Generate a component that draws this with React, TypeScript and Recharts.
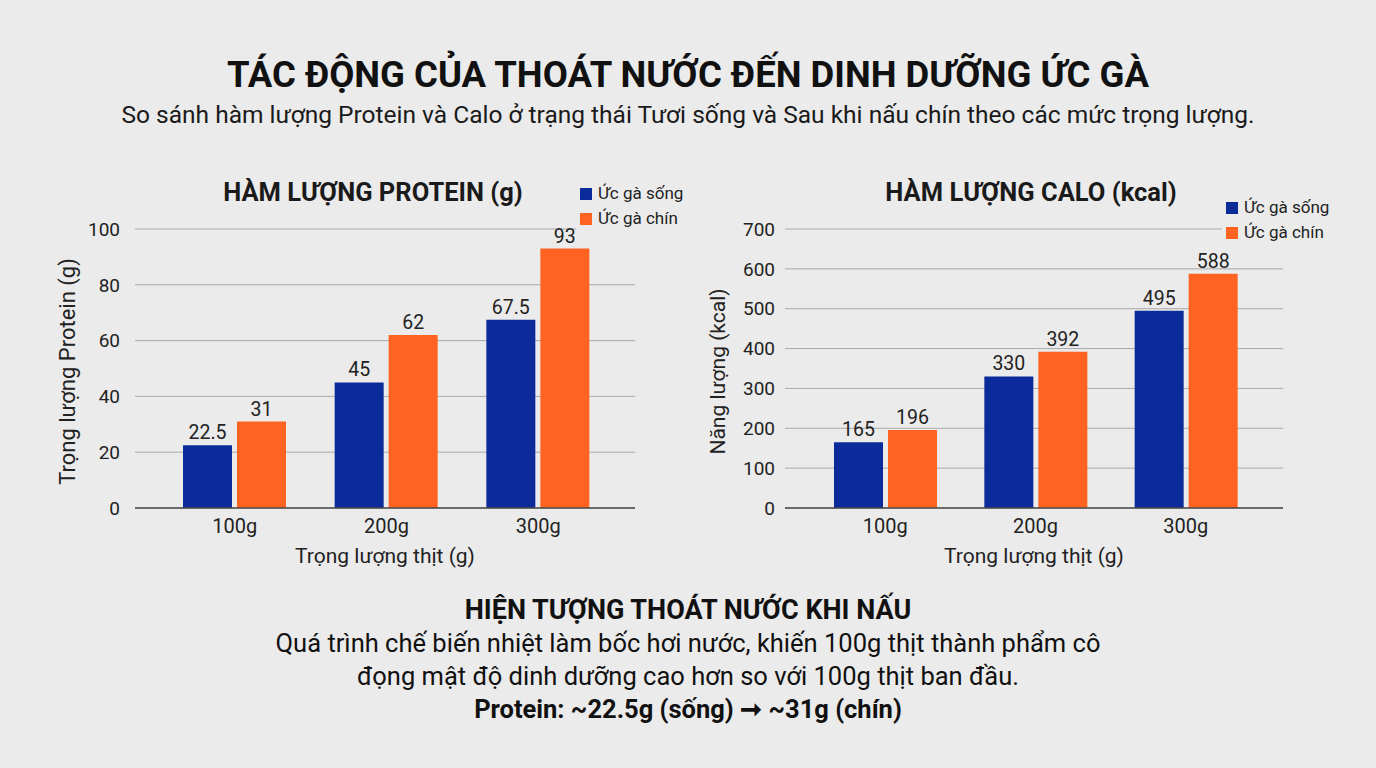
import React from 'react';
import {
  BarChart,
  Bar,
  XAxis,
  YAxis,
  CartesianGrid,
  LabelList,
  Label,
} from 'recharts';

const weights = ['100g', '200g', '300g'];
const proteinRaw = [22.5, 45, 67.5];
const proteinCooked = [31, 62, 93];
const caloRaw = [165, 330, 495];
const caloCooked = [196, 392, 588];
const proteinTicks = [0, 20, 40, 60, 80, 100];
const caloTicks = [0, 100, 200, 300, 400, 500, 600, 700];

const BLUE = '#0c2b9b';
const ORANGE = '#ff6322';
const BG = '#ebebeb';
const FONT = 'Roboto, "Noto Sans", sans-serif';

const proteinData = weights.map((w, i) => ({ name: w, raw: proteinRaw[i], cooked: proteinCooked[i] }));
const caloData = weights.map((w, i) => ({ name: w, raw: caloRaw[i], cooked: caloCooked[i] }));

interface PanelProps {
  data: { name: string; raw: number; cooked: number }[];
  ticks: number[];
  yLabel: string;
  yLabelSize: number;
  marginRight: number;
  tickMargin: number;
  padding: { left: number; right: number };
}

const Panel: React.FC<PanelProps> = ({ data, ticks, yLabel, yLabelSize, marginRight, tickMargin, padding }) => (
  <BarChart
    width={660}
    height={430}
    data={data}
    margin={{ top: 79, right: marginRight, left: 0, bottom: 42 }}
    barSize={49}
    barGap={5}
  >
    <CartesianGrid vertical={false} stroke="#a9a9a9" strokeWidth={1} />
    <XAxis
      dataKey="name"
      height={30}
      padding={padding}
      tickLine={false}
      tickMargin={5}
      axisLine={{ stroke: '#4a4a4a', strokeWidth: 1.5 }}
      tick={{ fill: '#222', fontSize: 20 }}
    >
      <Label value="Trọng lượng thịt (g)" position="bottom" offset={10} fill="#222" fontSize={21} />
    </XAxis>
    <YAxis
      width={135}
      domain={[0, ticks[ticks.length - 1]]}
      ticks={ticks}
      axisLine={false}
      tickLine={false}
      tickMargin={tickMargin}
      tick={{ fill: '#222', fontSize: 19 }}
    >
      {/* dx/dy act in screen space before the rotation */}
      <Label value={yLabel} position="center" angle={-90} dy={3} fill="#222" fontSize={yLabelSize} />
    </YAxis>
    <Bar dataKey="raw" fill={BLUE} isAnimationActive={false}>
      <LabelList dataKey="raw" position="top" offset={6} fill="#222" fontSize={19.5} />
    </Bar>
    <Bar dataKey="cooked" fill={ORANGE} isAnimationActive={false}>
      <LabelList dataKey="cooked" position="top" offset={6} fill="#222" fontSize={19.5} />
    </Bar>
  </BarChart>
);

const LegendBox: React.FC<{ left: number; top: number }> = ({ left, top }) => (
  <div style={{ position: 'absolute', left, top, background: BG, padding: '1px 4px', fontSize: 17, color: '#222', lineHeight: '25px' }}>
    {[
      { c: BLUE, t: 'Ức gà sống' },
      { c: ORANGE, t: 'Ức gà chín' },
    ].map((it) => (
      <div key={it.t} style={{ display: 'flex', alignItems: 'center' }}>
        <span style={{ display: 'inline-block', width: 12, height: 12, background: it.c, marginRight: 6 }} />
        {it.t}
      </div>
    ))}
  </div>
);

const App: React.FC = () => (
  <div
    style={{
      position: 'absolute',
      left: 0,
      top: 0,
      width: 1376,
      height: 768,
      background: BG,
      fontFamily: FONT,
      color: '#111',
      overflow: 'hidden',
    }}
  >
    <div style={{ position: 'absolute', top: 53, width: '100%', textAlign: 'center', fontSize: 36.5, fontWeight: 700, lineHeight: '44px' }}>
      TÁC ĐỘNG CỦA THOÁT NƯỚC ĐẾN DINH DƯỠNG ỨC GÀ
    </div>
    <div style={{ position: 'absolute', top: 100, width: '100%', textAlign: 'center', fontSize: 24.5, lineHeight: '30px', color: '#1a1a1a' }}>
      So sánh hàm lượng Protein và Calo ở trạng thái Tươi sống và Sau khi nấu chín theo các mức trọng lượng.
    </div>

    <div style={{ position: 'absolute', left: 173, top: 176, width: 400, textAlign: 'center', fontSize: 25.5, lineHeight: '32px', fontWeight: 700, color: '#1a1a1a' }}>
      HÀM LƯỢNG PROTEIN (g)
    </div>
    <div style={{ position: 'absolute', left: 831, top: 176, width: 400, textAlign: 'center', fontSize: 25.5, lineHeight: '32px', fontWeight: 700, color: '#1a1a1a' }}>
      HÀM LƯỢNG CALO (kcal)
    </div>

    <div style={{ position: 'absolute', left: 0, top: 150 }}>
      <Panel data={proteinData} ticks={proteinTicks} yLabel="Trọng lượng Protein (g)" yLabelSize={22} marginRight={25} tickMargin={9} padding={{ left: 24, right: 21 }} />
    </div>
    <div style={{ position: 'absolute', left: 650, top: 150 }}>
      <Panel data={caloData} ticks={caloTicks} yLabel="Năng lượng (kcal)" yLabelSize={21} marginRight={27} tickMargin={4} padding={{ left: 25, right: 22 }} />
    </div>

    <LegendBox left={576} top={180} />
    <LegendBox left={1222} top={194} />

    <div style={{ position: 'absolute', top: 594, width: '100%', textAlign: 'center', lineHeight: '33px' }}>
      <div style={{ fontSize: 27, fontWeight: 700 }}>HIỆN TƯỢNG THOÁT NƯỚC KHI NẤU</div>
      <div style={{ fontSize: 25.5 }}>Quá trình chế biến nhiệt làm bốc hơi nước, khiến 100g thịt thành phẩm cô</div>
      <div style={{ fontSize: 25.5 }}>đọng mật độ dinh dưỡng cao hơn so với 100g thịt ban đầu.</div>
      <div style={{ fontSize: 25.5, fontWeight: 700 }}>Protein: ~22.5g (sống) ➞ ~31g (chín)</div>
    </div>
  </div>
);

export default App;
